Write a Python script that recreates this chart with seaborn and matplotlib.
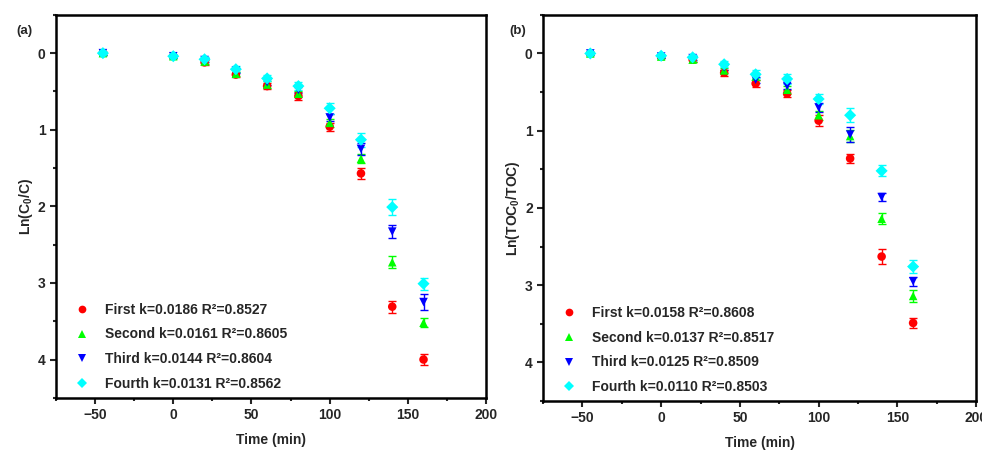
import numpy as np
import pandas as pd
import matplotlib
matplotlib.use('Agg')
import matplotlib.pyplot as plt
import seaborn as sns
from matplotlib.ticker import MultipleLocator

# sampling times (min)
time = [-45, 0, 20, 40, 60, 80, 100, 120, 140, 160]
series = ['First', 'Second', 'Third', 'Fourth']

# panel (a): Ln(C0/C)
a_first = [0.0, 0.04, 0.12, 0.28, 0.43, 0.56, 0.96, 1.57, 3.31, 4.00]
a_second = [0.0, 0.04, 0.11, 0.27, 0.41, 0.53, 0.91, 1.38, 2.73, 3.52]
a_third = [0.0, 0.04, 0.09, 0.23, 0.38, 0.48, 0.84, 1.25, 2.33, 3.25]
a_fourth = [0.0, 0.04, 0.08, 0.21, 0.33, 0.43, 0.72, 1.13, 2.01, 3.01]
a_err_first = [0.02, 0.02, 0.03, 0.03, 0.04, 0.05, 0.05, 0.07, 0.08, 0.07]
a_err_second = [0.02, 0.02, 0.03, 0.03, 0.04, 0.04, 0.05, 0.06, 0.08, 0.06]
a_err_third = [0.02, 0.02, 0.03, 0.03, 0.04, 0.04, 0.05, 0.08, 0.08, 0.10]
a_err_fourth = [0.02, 0.02, 0.03, 0.04, 0.04, 0.05, 0.07, 0.09, 0.10, 0.08]
a_labels = ['First k=0.0186 R²=0.8527', 'Second k=0.0161 R²=0.8605',
            'Third k=0.0144 R²=0.8604', 'Fourth k=0.0131 R²=0.8562']

# panel (b): Ln(TOC0/TOC)
b_first = [0.0, 0.04, 0.08, 0.25, 0.39, 0.52, 0.87, 1.36, 2.63, 3.49]
b_second = [0.0, 0.04, 0.08, 0.22, 0.30, 0.47, 0.80, 1.07, 2.14, 3.14]
b_third = [0.0, 0.04, 0.06, 0.18, 0.34, 0.42, 0.70, 1.05, 1.86, 2.95]
b_fourth = [0.0, 0.03, 0.05, 0.14, 0.27, 0.33, 0.59, 0.80, 1.52, 2.76]
b_err_first = [0.02, 0.02, 0.03, 0.04, 0.05, 0.05, 0.07, 0.06, 0.10, 0.07]
b_err_second = [0.02, 0.02, 0.03, 0.03, 0.04, 0.05, 0.06, 0.08, 0.07, 0.08]
b_err_third = [0.02, 0.02, 0.03, 0.03, 0.04, 0.04, 0.06, 0.10, 0.05, 0.06]
b_err_fourth = [0.02, 0.02, 0.03, 0.04, 0.05, 0.06, 0.06, 0.09, 0.07, 0.08]
b_labels = ['First k=0.0158 R²=0.8608', 'Second k=0.0137 R²=0.8517',
            'Third k=0.0125 R²=0.8509', 'Fourth k=0.0110 R²=0.8503']

colors = ['#ff0000', '#00ff00', '#0000ff', '#00ffff']
markers = ['o', '^', 'v', 'D']

sns.set_style('ticks')
plt.rcParams['font.family'] = ['Liberation Sans', 'DejaVu Sans']
plt.rcParams['font.weight'] = 'bold'
plt.rcParams['axes.labelweight'] = 'bold'
plt.rcParams['mathtext.fontset'] = 'custom'
plt.rcParams['mathtext.rm'] = 'Liberation Sans:bold'
plt.rcParams['mathtext.it'] = 'Liberation Sans:bold'
plt.rcParams['mathtext.bf'] = 'Liberation Sans:bold'


def build_frame(values, errs, labels):
    rows = []
    for lab, vals, err in zip(labels, values, errs):
        for t, v, e in zip(time, vals, err):
            rows.append({'time': t, 'value': v, 'err': e, 'series': lab})
    return pd.DataFrame(rows)


def draw_panel(ax, df, labels, ylabel):
    palette = dict(zip(labels, colors))
    mk = dict(zip(labels, markers))
    for lab in labels:
        sub = df[df['series'] == lab]
        ax.errorbar(sub['time'], sub['value'], yerr=sub['err'], fmt='none',
                    ecolor=palette[lab], elinewidth=1, capsize=3, capthick=1, zorder=2)
    sns.scatterplot(data=df, x='time', y='value', hue='series', style='series',
                    palette=palette, markers=mk, s=38, edgecolor='none',
                    linewidth=0, ax=ax, zorder=3)
    ax.set_xlim(-75, 200)
    ax.set_ylim(4.5, -0.5)
    ax.xaxis.set_major_locator(MultipleLocator(50))
    ax.xaxis.set_minor_locator(MultipleLocator(25))
    ax.yaxis.set_major_locator(MultipleLocator(1))
    ax.yaxis.set_minor_locator(MultipleLocator(0.5))
    ax.tick_params(which='major', direction='out', length=4, width=1.5, labelsize=10)
    ax.tick_params(which='minor', direction='out', length=2.5, width=1.5)
    for sp in ax.spines.values():
        sp.set_visible(True)
        sp.set_linewidth(1.8)
        sp.set_color('black')
    ax.set_xlabel('Time (min)', fontsize=10, fontweight='bold', labelpad=8)
    ax.set_ylabel(ylabel, fontsize=10, fontweight='bold', labelpad=2)
    handles, labs = ax.get_legend_handles_labels()
    ax.legend(handles, labs, loc='lower left', bbox_to_anchor=(0.0, -0.015),
              frameon=False, labelspacing=0.78, handletextpad=0.6,
              markerscale=0.9, prop={'weight': 'bold', 'size': 10})


fig = plt.figure(figsize=(9.82, 4.5), dpi=100)
ax1 = fig.add_axes([0.057, 0.116, 0.438, 0.851])
ax2 = fig.add_axes([0.553, 0.109, 0.441, 0.858])

df_a = build_frame([a_first, a_second, a_third, a_fourth],
                   [a_err_first, a_err_second, a_err_third, a_err_fourth], a_labels)
df_b = build_frame([b_first, b_second, b_third, b_fourth],
                   [b_err_first, b_err_second, b_err_third, b_err_fourth], b_labels)

draw_panel(ax1, df_a, a_labels, 'Ln(C$_0$/C)')
draw_panel(ax2, df_b, b_labels, 'Ln(TOC$_0$/TOC)')

fig.text(0.017, 0.925, '(a)', fontsize=9.5, fontweight='bold')
fig.text(0.519, 0.925, '(b)', fontsize=9.5, fontweight='bold')

plt.savefig('out.png', dpi=100)
